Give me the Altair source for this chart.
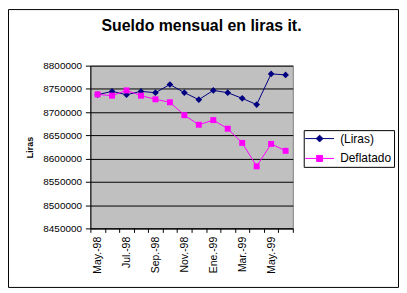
import altair as alt
import pandas as pd

months = ["May.-98", "Jun.-98", "Jul.-98", "Ago.-98", "Sep.-98", "Oct.-98", "Nov.-98",
          "Dic.-98", "Ene.-99", "Feb.-99", "Mar.-99", "Abr.-99", "May.-99", "Jun.-99"]
liras = [8737500, 8744600, 8737500, 8744600, 8741800, 8759500, 8741800,
         8726900, 8746750, 8741800, 8729700, 8716200, 8782250, 8780100]
deflatado = [8738200, 8735400, 8746750, 8735400, 8727600, 8721200, 8693500,
             8672900, 8682850, 8664400, 8633900, 8583450, 8631700, 8616800]
series = ["(Liras)", "Deflatado"]
colors = ["#000080", "#FF00FF"]
y_ticks = [8450000, 8500000, 8550000, 8600000, 8650000, 8700000, 8750000, 8800000]
shown_months = months[::2]

rows = []
for m, v in zip(months, liras):
    rows.append({"month": m, "serie": series[0], "value": v})
for m, v in zip(months, deflatado):
    rows.append({"month": m, "serie": series[1], "value": v})
df = pd.DataFrame(rows)

FONT = "Liberation Sans"
label_list = ",".join("'" + s + "'" for s in shown_months)

x_enc = alt.X(
    "month:N", sort=months, bandPosition=0.5, title=None,
    scale=alt.Scale(type="band", paddingInner=0, paddingOuter=0),
    axis=alt.Axis(
        labelAngle=-90, labelFontSize=10.5, labelFont=FONT, labelColor="black",
        labelExpr="indexof([" + label_list + "], datum.value) >= 0 ? datum.value : ''",
        tickBand="extent", tickSize=4, tickColor="black", domainColor="black",
        labelPadding=4, grid=False, labelOverlap=False,
    ),
)
y_enc = alt.Y(
    "value:Q",
    scale=alt.Scale(domain=[y_ticks[0], y_ticks[-1]], nice=False, zero=False),
    axis=alt.Axis(
        values=y_ticks, format="d", title="Liras", titleFont=FONT, titleFontSize=9,
        titleFontWeight="bold", titleColor="black", titlePadding=8,
        labelFontSize=10, labelFont=FONT, labelColor="black", labelPadding=4,
        tickSize=5, tickColor="black", domainColor="black",
        grid=True, gridColor="black", gridWidth=1, gridOpacity=1,
    ),
)

# legend symbols: a short line with the series marker on it
sym_paths = [
    "M-1.17,0L3.67,0M1.25,-0.57L1.82,0L1.25,0.57L0.68,0Z",
    "M-1.17,0L3.67,0M0.75,-0.5L1.75,-0.5L1.75,0.5L0.75,0.5Z",
]
leg = alt.Legend(
    orient="none", legendX=215, legendY=65, title=None,
    strokeColor="black", fillColor="white", padding=2,
    labelFont=FONT, labelFontSize=12, labelColor="black", labelOffset=21.7,
    symbolSize=144, symbolStrokeWidth=1, symbolOpacity=1, rowPadding=7,
)
color_enc = alt.Color("serie:N", scale=alt.Scale(domain=series, range=colors), legend=leg)

base = alt.Chart(df)

legend_layer = base.mark_point(filled=True, opacity=0, strokeWidth=1).encode(
    x=x_enc, y=y_enc, color=color_enc,
    stroke=alt.Stroke("serie:N", scale=alt.Scale(domain=series, range=colors), legend=leg),
    shape=alt.Shape("serie:N", scale=alt.Scale(domain=series, range=sym_paths), legend=leg),
)

lines = base.mark_line(strokeWidth=1).encode(x=x_enc, y=y_enc, color=color_enc)

pts_liras = base.transform_filter(alt.datum.serie == series[0]).mark_point(
    shape="diamond", filled=True, size=45, opacity=1
).encode(x=x_enc, y=y_enc, color=color_enc)

pts_defl = base.transform_filter(alt.datum.serie == series[1]).mark_point(
    shape="square", filled=True, size=36, opacity=1
).encode(x=x_enc, y=y_enc, color=color_enc)

frame = alt.Chart(alt.Data(values=[{"f": 1}])).mark_rect(
    fill="white", fillOpacity=0, stroke="black", strokeWidth=1
).encode(
    x=alt.value(-82.5), x2=alt.value(310.5), y=alt.value(-56.5), y2=alt.value(223.5)
)

chart = alt.layer(frame, legend_layer, lines, pts_liras, pts_defl).properties(
    width=204, height=164,
    autosize=alt.AutoSizeParams(type="none"),
    padding={"left": 83, "top": 57, "right": 107, "bottom": 60},
    view=alt.ViewBackground(fill="#C0C0C0", stroke="#808080", strokeWidth=1),
    title=alt.TitleParams(
        "Sueldo mensual en liras it.", font=FONT, fontSize=16, fontWeight="bold",
        color="black", anchor="middle", dx=10, offset=-25,
    ),
)

chart.save("out.html", embed_options={"renderer": "svg", "actions": False})
